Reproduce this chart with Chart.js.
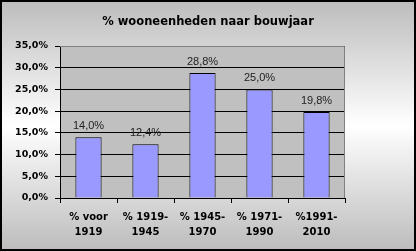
<!DOCTYPE html>
<html>
<head>
<meta charset="utf-8">
<script src="https://cdn.jsdelivr.net/npm/chart.js@4"></script>
<style>
    html, body { margin: 0; padding: 0; background: #fff; }
    canvas { display: block; }
</style>
</head>
<body>
<canvas id="myChart" width="416" height="251"></canvas>
<script>
// Данные
const categories = [['% voor', '1919'], ['% 1919-', '1945'], ['% 1945-', '1970'], ['% 1971-', '1990'], ['%1991-', '2010']];
const values = [14.0, 12.4, 28.8, 25.0, 19.8];
const yTicks = [0, 5, 10, 15, 20, 25, 30, 35];
const chartTitle = '% wooneenheden naar bouwjaar';

const fmt = v => v.toFixed(1).replace('.', ',') + '%';

// Фон, рамка и заголовок
const decor = {
    id: 'decor',
    beforeDraw(chart) {
        const c = chart.ctx;
        const w = chart.width, h = chart.height;
        const g = c.createLinearGradient(0, 0, 0, h);
        g.addColorStop(0, '#bcbcbc');
        g.addColorStop(0.5, '#ffffff');
        g.addColorStop(1, '#bcbcbc');
        c.save();
        c.fillStyle = g;
        c.fillRect(0, 0, w, h);
        const a = chart.chartArea;
        c.fillStyle = '#c0c0c0';
        c.fillRect(a.left, a.top, a.right - a.left, a.bottom - a.top);
        c.restore();
    },
    afterDraw(chart) {
        const c = chart.ctx;
        const a = chart.chartArea;
        c.save();
        c.strokeStyle = '#808080';
        c.lineWidth = 1;
        c.beginPath();
        c.moveTo(a.left, a.top + 0.5);
        c.lineTo(a.right - 0.5, a.top + 0.5);
        c.lineTo(a.right - 0.5, a.bottom);
        c.stroke();
        c.strokeStyle = '#000';
        c.lineWidth = 2;
        c.strokeRect(1, 1, chart.width - 2, chart.height - 2);
        c.fillStyle = '#000';
        c.font = 'bold 11.5px "DejaVu Sans"';
        c.textAlign = 'center';
        c.textBaseline = 'middle';
        c.fillText(chartTitle, 208, 22);
        // подписи значений
        c.font = '11px "Liberation Sans"';
        c.fillStyle = '#222';
        const meta = chart.getDatasetMeta(0);
        meta.data.forEach((bar, i) => {
            c.fillText(fmt(values[i]), bar.x, bar.y - 11);
        });
        c.restore();
    }
};

const ctx = document.getElementById('myChart');

new Chart(ctx, {
    type: 'bar',
    data: {
        labels: categories,
        datasets: [{
            data: values,
            backgroundColor: '#9999ff',
            borderColor: '#000',
            borderWidth: 1,
            categoryPercentage: 1,
            barPercentage: 0.46
        }]
    },
    options: {
        responsive: false,
        animation: false,
        layout: { padding: { left: 0, right: 71, top: 46, bottom: 0 } },
        plugins: {
            legend: { display: false },
            tooltip: { enabled: false },
            title: { display: false }
        },
        scales: {
            x: {
                afterFit(scale) { scale.height = 53; },
                grid: { display: true, drawOnChartArea: false, offset: true, color: '#000', tickLength: 5 },
                border: { color: '#000' },
                ticks: {
                    color: '#000',
                    font: { family: 'DejaVu Sans', size: 10, weight: 'bold', lineHeight: 1.5 },
                    maxRotation: 0,
                    padding: 7
                }
            },
            y: {
                min: 0,
                max: 35,
                afterFit(scale) { scale.width = 60; },
                afterBuildTicks(scale) { scale.ticks = yTicks.map(v => ({ value: v })); },
                grid: { color: '#000', tickLength: 5 },
                border: { color: '#000' },
                ticks: {
                    color: '#000',
                    font: { family: 'DejaVu Sans', size: 9.5, weight: 'bold' },
                    padding: 7,
                    callback: v => fmt(v)
                }
            }
        }
    },
    plugins: [decor]
});
</script>
</body>
</html>
